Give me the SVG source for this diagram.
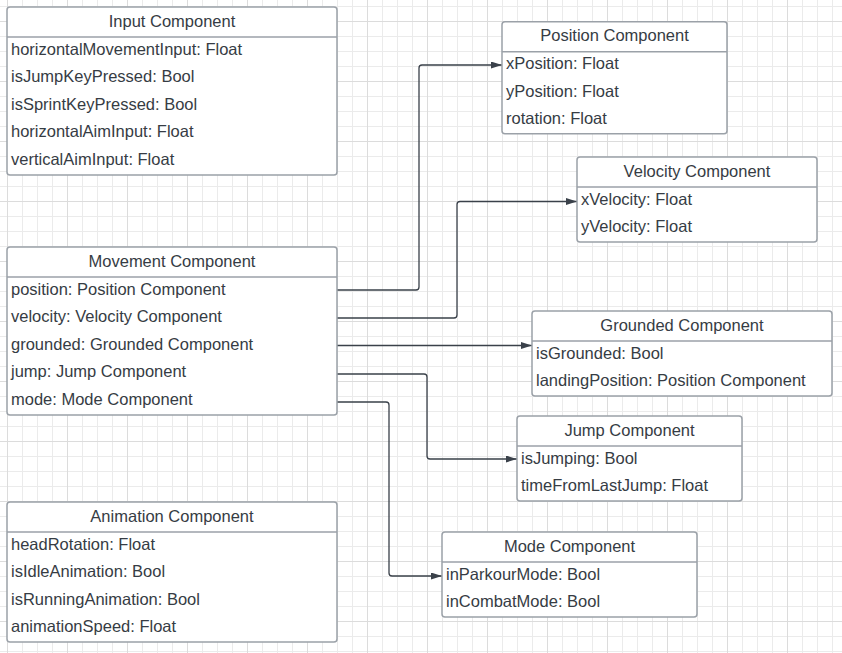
<svg xmlns="http://www.w3.org/2000/svg" width="842" height="653" viewBox="0 0 842 653">
<style>
.box{fill:#ffffff;stroke:#9ba1a8;stroke-width:1.5}
.div{stroke:#9ba1a8;stroke-width:1.5}
.t{font-family:"Liberation Sans",Arial,sans-serif;font-size:16.5px;fill:#363c44}
.title{text-anchor:middle}
.conn{fill:none;stroke:#3a414a;stroke-width:1.3}
</style>
<defs>
<pattern id="gminor" patternUnits="userSpaceOnUse" x="7" y="6" width="15" height="15">
<path d="M0.5,0V15M0,0.5H15" stroke="#ebebeb" stroke-width="1"/>
</pattern>
<pattern id="gmajor" patternUnits="userSpaceOnUse" x="7" y="21" width="60" height="60">
<path d="M0.5,0V60M0,0.5H60" stroke="#dcdcdc" stroke-width="1"/>
</pattern>
<marker id="arr" markerUnits="userSpaceOnUse" markerWidth="12" markerHeight="8" refX="11" refY="3.5" orient="auto">
<path d="M0,0L11,3.5L0,7z" fill="#3a414a"/>
</marker>
</defs>
<rect width="842" height="653" fill="#ffffff"/>
<rect width="842" height="653" fill="url(#gminor)"/>
<rect width="842" height="653" fill="url(#gmajor)"/>

<g id="connectors">
<path class="conn" marker-end="url(#arr)" d="M337,290H416Q419,290 419,287V68Q419,65 422,65H502"/>
<path class="conn" marker-end="url(#arr)" d="M337,318H454Q457,318 457,315V204.5Q457,201.5 460,201.5H577"/>
<path class="conn" marker-end="url(#arr)" d="M337,345.5H532"/>
<path class="conn" marker-end="url(#arr)" d="M337,374H424Q427,374 427,377V456Q427,459 430,459H517"/>
<path class="conn" marker-end="url(#arr)" d="M337,402H386Q389,402 389,405V573Q389,576 392,576H442"/>
</g>

<g id="input">
<rect class="box" x="7" y="7" width="330" height="168" rx="3"/>
<line class="div" x1="7" y1="37" x2="337" y2="37"/>
<text class="t title" x="172" y="26.5">Input Component</text>
<text class="t" x="11" y="54.5">horizontalMovementInput: Float</text>
<text class="t" x="11" y="82">isJumpKeyPressed: Bool</text>
<text class="t" x="11" y="109.5">isSprintKeyPressed: Bool</text>
<text class="t" x="11" y="137">horizontalAimInput: Float</text>
<text class="t" x="11" y="164.5">verticalAimInput: Float</text>
</g>

<g id="position">
<rect class="box" x="502" y="21.7" width="225" height="112" rx="3"/>
<line class="div" x1="502" y1="51.7" x2="727" y2="51.7"/>
<text class="t title" x="614.5" y="41.2">Position Component</text>
<text class="t" x="506" y="69.2">xPosition: Float</text>
<text class="t" x="506" y="96.7">yPosition: Float</text>
<text class="t" x="506" y="124.2">rotation: Float</text>
</g>

<g id="velocity">
<rect class="box" x="577" y="157" width="240" height="85" rx="3"/>
<line class="div" x1="577" y1="187" x2="817" y2="187"/>
<text class="t title" x="697" y="176.5">Velocity Component</text>
<text class="t" x="581" y="204.5">xVelocity: Float</text>
<text class="t" x="581" y="232">yVelocity: Float</text>
</g>

<g id="movement">
<rect class="box" x="7" y="247" width="330" height="168" rx="3"/>
<line class="div" x1="7" y1="277" x2="337" y2="277"/>
<text class="t title" x="172" y="266.5">Movement Component</text>
<text class="t" x="11" y="294.5">position: Position Component</text>
<text class="t" x="11" y="322">velocity: Velocity Component</text>
<text class="t" x="11" y="349.5">grounded: Grounded Component</text>
<text class="t" x="11" y="377">jump: Jump Component</text>
<text class="t" x="11" y="404.5">mode: Mode Component</text>
</g>

<g id="grounded">
<rect class="box" x="532" y="311" width="300" height="85" rx="3"/>
<line class="div" x1="532" y1="341" x2="832" y2="341"/>
<text class="t title" x="682" y="330.5">Grounded Component</text>
<text class="t" x="536" y="358.5">isGrounded: Bool</text>
<text class="t" x="536" y="386">landingPosition: Position Component</text>
</g>

<g id="jump">
<rect class="box" x="517" y="416" width="225" height="85" rx="3"/>
<line class="div" x1="517" y1="446" x2="742" y2="446"/>
<text class="t title" x="629.5" y="435.5">Jump Component</text>
<text class="t" x="521" y="463.5">isJumping: Bool</text>
<text class="t" x="521" y="491">timeFromLastJump: Float</text>
</g>

<g id="animation">
<rect class="box" x="7" y="502" width="330" height="140" rx="3"/>
<line class="div" x1="7" y1="532" x2="337" y2="532"/>
<text class="t title" x="172" y="521.5">Animation Component</text>
<text class="t" x="11" y="549.5">headRotation: Float</text>
<text class="t" x="11" y="577">isIdleAnimation: Bool</text>
<text class="t" x="11" y="604.5">isRunningAnimation: Bool</text>
<text class="t" x="11" y="632">animationSpeed: Float</text>
</g>

<g id="mode">
<rect class="box" x="442" y="532" width="255" height="85" rx="3"/>
<line class="div" x1="442" y1="562" x2="697" y2="562"/>
<text class="t title" x="569.5" y="551.5">Mode Component</text>
<text class="t" x="446" y="579.5">inParkourMode: Bool</text>
<text class="t" x="446" y="607">inCombatMode: Bool</text>
</g>
</svg>
